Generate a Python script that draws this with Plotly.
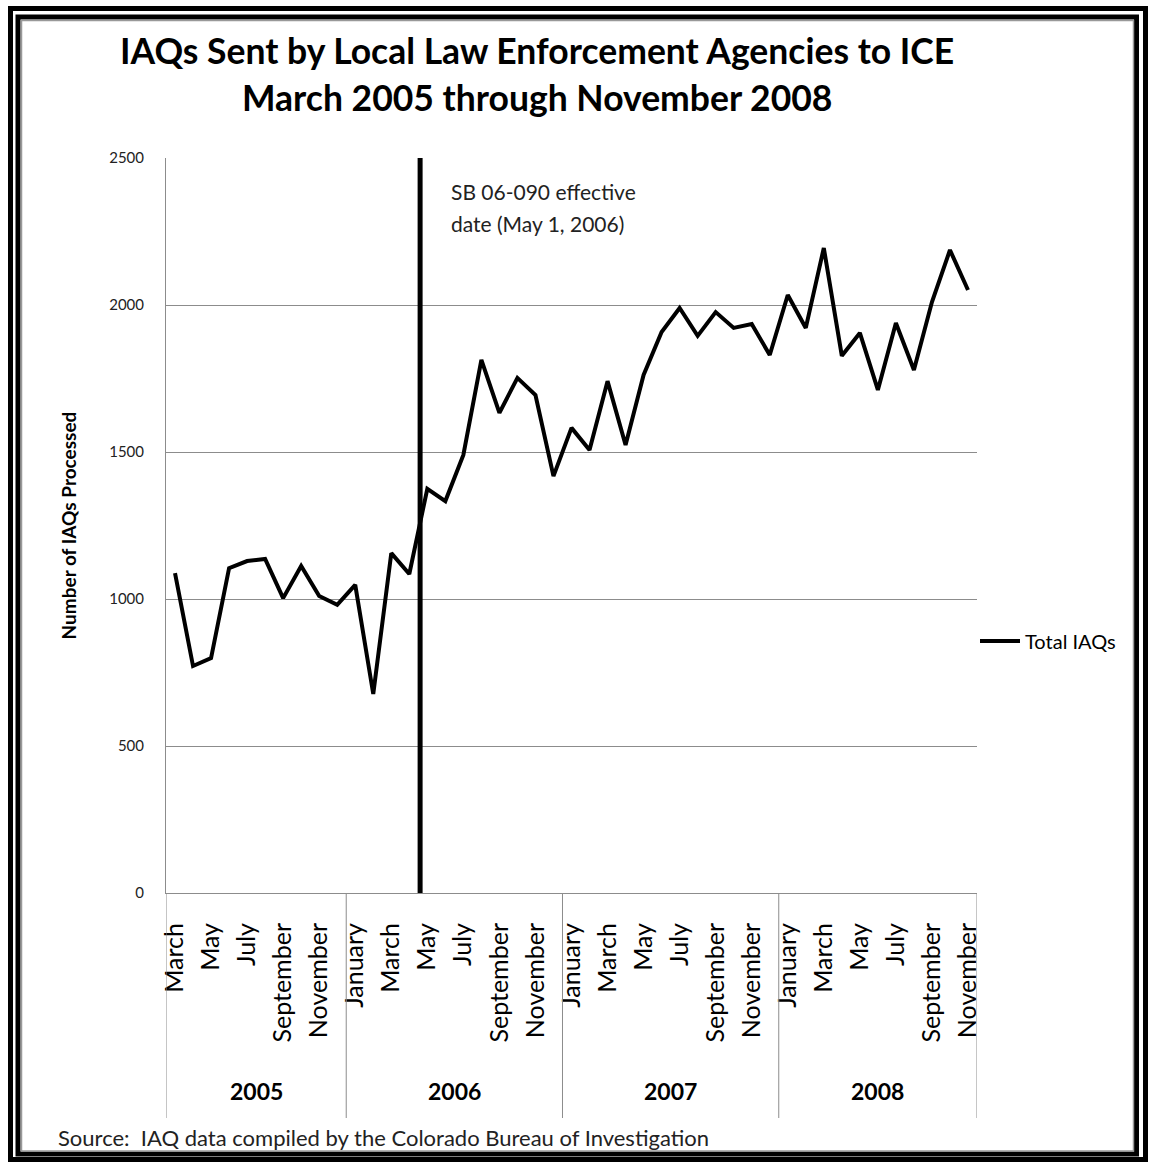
import plotly.graph_objects as go

# ---- data ----
months_2005 = ["March", "April", "May", "June", "July", "August", "September",
               "October", "November", "December"]
months_full = ["January", "February", "March", "April", "May", "June", "July",
               "August", "September", "October", "November", "December"]
months_2008 = months_full[:11]
years = ["2005", "2006", "2007", "2008"]
year_months = [months_2005, months_full, months_full, months_2008]

total_iaqs = [1088, 772, 799, 1105, 1129, 1136, 1003, 1112, 1010, 980,
              1048, 677, 1156, 1085, 1375, 1333, 1490, 1813, 1633, 1752, 1694, 1418,
              1582, 1507, 1741, 1524, 1762, 1908, 1990, 1895, 1976, 1922, 1935, 1830,
              2034, 1922, 2194, 1827, 1905, 1711, 1939, 1779, 2010, 2187, 2051]

event_position = 13.6          # between April and May 2006 (May 1, 2006)
event_label_lines = ["SB 06-090 effective", "date (May 1, 2006)"]
y_range = [0, 2500]
y_ticks = [0, 500, 1000, 1500, 2000, 2500]

title_lines = ["IAQs Sent by Local Law Enforcement Agencies to ICE",
               "March 2005 through November 2008"]
source_text = "Source:  IAQ data compiled by the Colorado Bureau of Investigation"

# ---- derived ----
labels = [m for ms in year_months for m in ms]
idx = list(range(len(labels)))
tickvals = idx[::2]
ticktext = labels[::2]

# figure geometry (pixels)
W, H = 1153, 1162
L, R, T, B = 166, 176, 158, 269
PW, PH = W - L - R, H - T - B


def px_x(p):
    return (p - L) / PW


def px_y(p):
    return (H - B - p) / PH


FONT = "Lato"
fig = go.Figure()

fig.add_trace(go.Scatter(
    x=idx, y=total_iaqs, mode="lines", name="Total IAQs",
    line=dict(color="black", width=4), showlegend=True))

fig.add_trace(go.Scatter(
    x=[event_position, event_position], y=y_range, mode="lines",
    line=dict(color="black", width=5), showlegend=False, hoverinfo="skip"))

# year group boundaries & labels
shapes = []
start = 0
bounds = [-0.5]
for y, ms in zip(years, year_months):
    end = start + len(ms)
    bounds.append(end - 0.5)
    fig.add_annotation(x=(start + end - 1) / 2, y=px_y(1091), xref="x", yref="paper",
                       text="<b>%s</b>" % y, showarrow=False,
                       xanchor="center", yanchor="middle",
                       font=dict(family=FONT, size=23, color="black"))
    start = end
for b in bounds:
    shapes.append(dict(type="line", xref="x", yref="paper", x0=b, x1=b,
                       y0=0, y1=px_y(1118), line=dict(color="#8c8c8c", width=1)))

# outer frame
shapes.append(dict(type="rect", xref="paper", yref="paper",
                   x0=px_x(10.5), x1=px_x(1145.5), y0=px_y(8.5), y1=px_y(1159.5),
                   line=dict(color="black", width=5)))
shapes.append(dict(type="rect", xref="paper", yref="paper",
                   x0=px_x(18), x1=px_x(1136.5), y0=px_y(17), y1=px_y(1154),
                   line=dict(color="black", width=5)))
shapes.append(dict(type="rect", xref="paper", yref="paper",
                   x0=px_x(21.5), x1=px_x(1133.5), y0=px_y(20.5), y1=px_y(1151),
                   line=dict(color="#999999", width=1.5)))

# titles
for i, line in enumerate(title_lines):
    fig.add_annotation(x=px_x(537), y=px_y(50 + 47 * i), xref="paper", yref="paper",
                       text="<b>%s</b>" % line, showarrow=False,
                       xanchor="center", yanchor="middle",
                       font=dict(family=FONT, size=35.5, color="black"))

# event label
for i, line in enumerate(event_label_lines):
    fig.add_annotation(x=px_x(449), y=px_y(192 + 32 * i), xref="paper", yref="paper",
                       text=line, showarrow=False, xanchor="left", yanchor="middle",
                       font=dict(family=FONT, size=21, color="#222222"))

# source
fig.add_annotation(x=px_x(56), y=px_y(1137), xref="paper", yref="paper",
                   text=source_text, showarrow=False, xanchor="left", yanchor="middle",
                   font=dict(family=FONT, size=22, color="#222222"))

fig.update_layout(
    width=W, height=H,
    margin=dict(l=L, r=R, t=T, b=B),
    paper_bgcolor="white", plot_bgcolor="white",
    font=dict(family=FONT, color="black"),
    shapes=shapes,
    legend=dict(x=px_x(975), y=px_y(641), xanchor="left", yanchor="middle",
                font=dict(family=FONT, size=20, color="black"),
                bgcolor="rgba(0,0,0,0)", itemwidth=40),
    xaxis=dict(range=[-0.5, len(labels) - 0.5], tickmode="array",
               tickvals=tickvals, ticktext=ticktext, tickangle=-90,
               showgrid=False, zeroline=False, showline=True,
               linecolor="#8c8c8c", linewidth=1, ticks="",
               ticklabelstandoff=19,
               tickfont=dict(family=FONT, size=25, color="black")),
    yaxis=dict(range=y_range, tickvals=y_ticks, showgrid=True,
               gridcolor="#8c8c8c", gridwidth=1, zeroline=False,
               showline=True, linecolor="#8c8c8c", linewidth=1, ticks="",
               ticklabelstandoff=18,
               tickfont=dict(family=FONT, size=15, color="#222222"),
               title=dict(text="<b>Number of IAQs Processed</b>", standoff=27,
                          font=dict(family=FONT, size=19, color="black"))),
)

fig.write_html("out.html", config={"displayModeBar": False},
               post_script="document.body.style.margin='0';document.body.style.padding='0';")
